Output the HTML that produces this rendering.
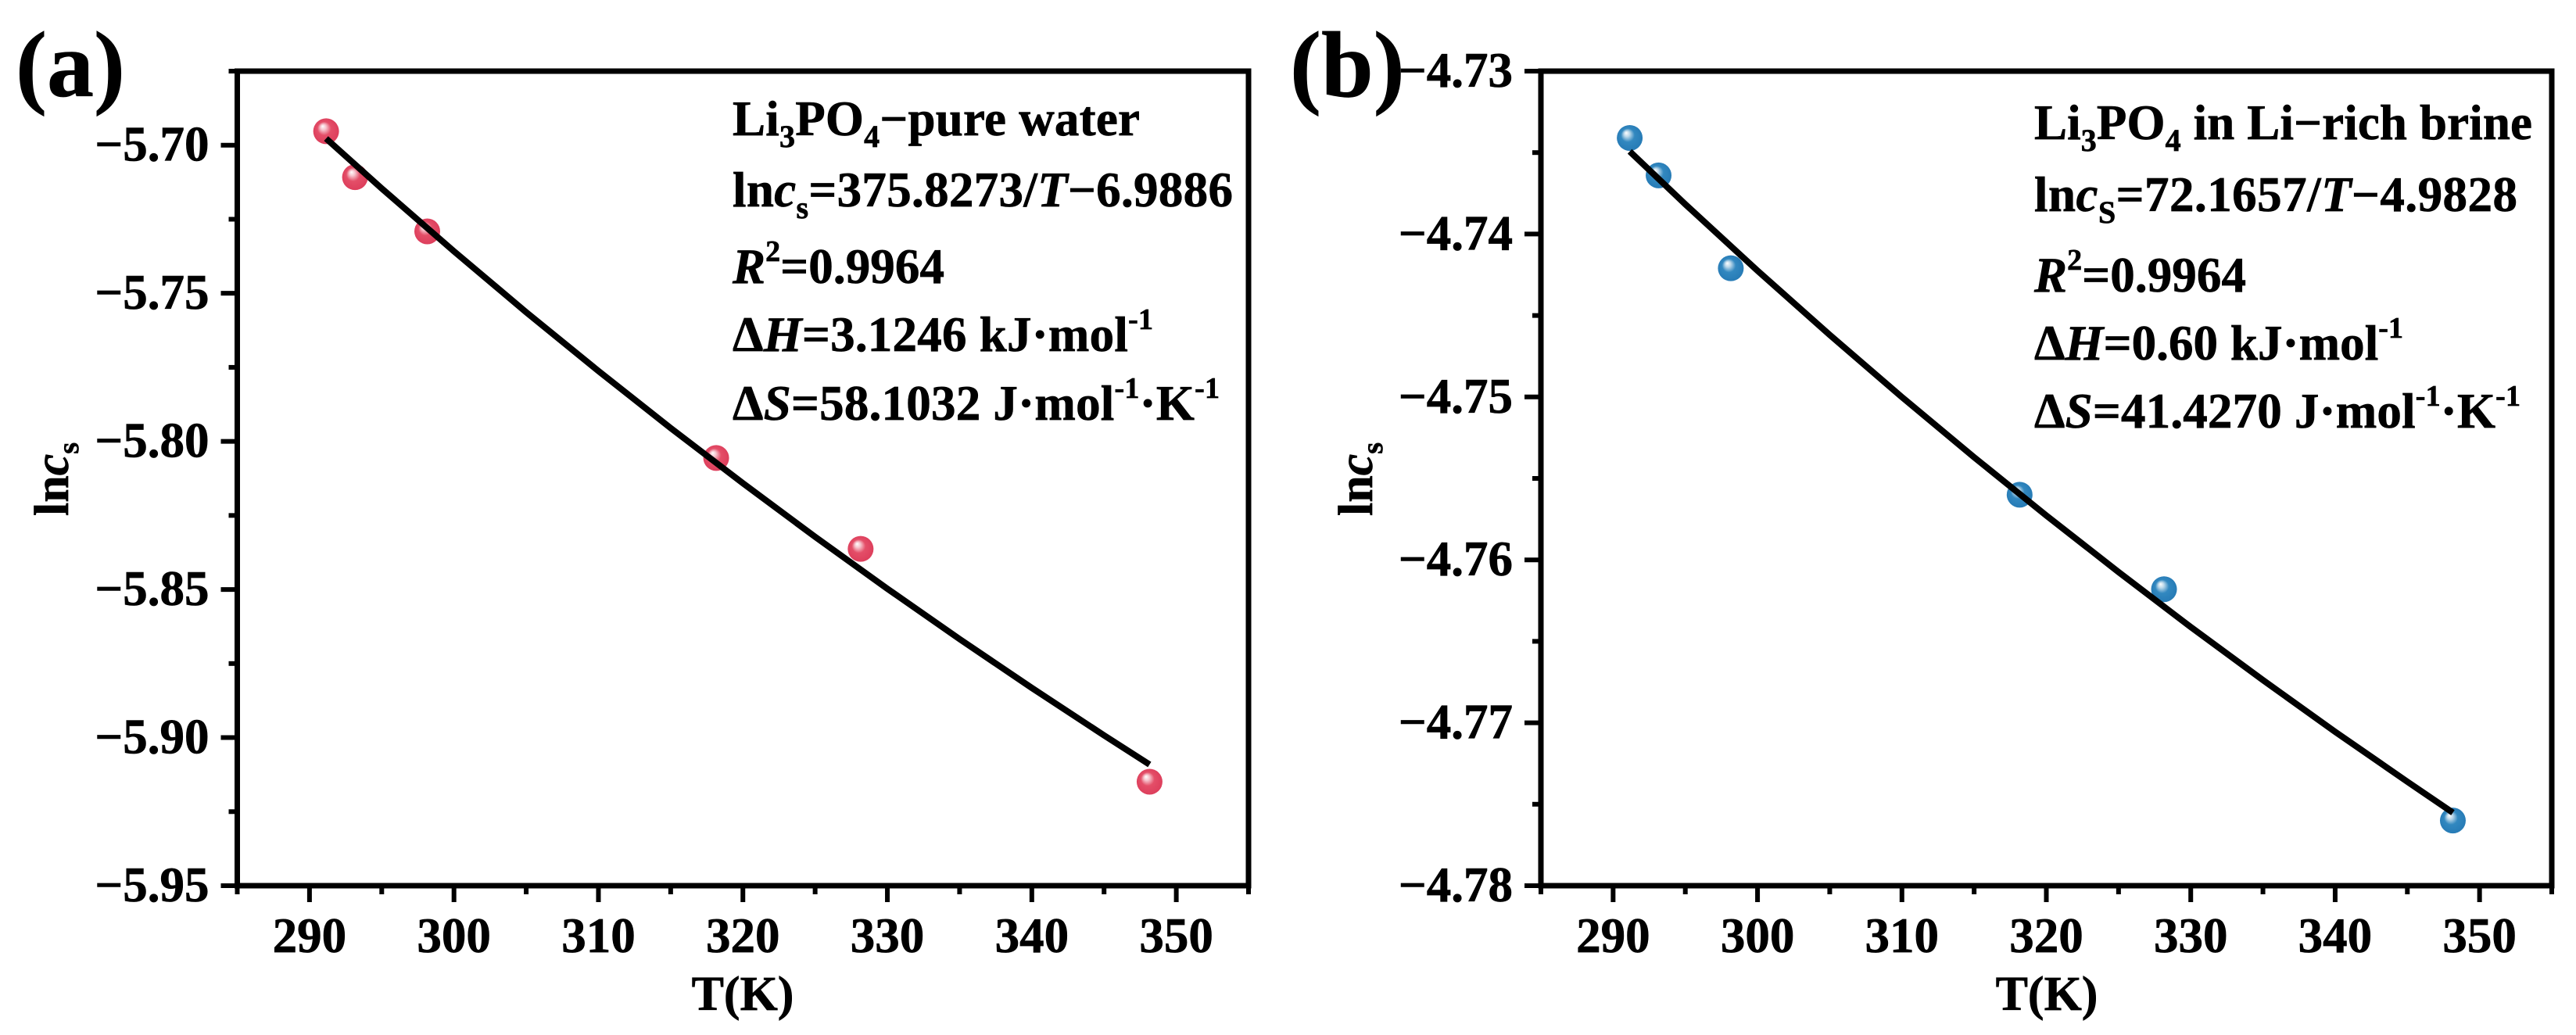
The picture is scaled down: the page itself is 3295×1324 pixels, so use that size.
<!DOCTYPE html>
<html lang="en">
<head>
<meta charset="utf-8">
<title>Li3PO4 solubility fits</title>
<style>
  html, body { margin: 0; padding: 0; background: #fff; }
  svg { display: block; }
  text { font-family: "Liberation Serif", serif; font-weight: bold; fill: #000; stroke: #000; stroke-width: 0.7px; }
</style>
</head>
<body>
<svg id="figure" xmlns="http://www.w3.org/2000/svg" width="3295" height="1324" viewBox="0 0 3295 1324">
  <defs>
    <radialGradient id="red-ball" cx="0.5" cy="0.5" r="0.55" fx="0.36" fy="0.3">
      <stop offset="0" stop-color="#ffffff"/>
      <stop offset="0.2" stop-color="#f6c4cd"/>
      <stop offset="0.48" stop-color="#e44e68"/>
      <stop offset="1" stop-color="#dc3c5a"/>
    </radialGradient>
    <radialGradient id="blue-ball" cx="0.5" cy="0.5" r="0.55" fx="0.36" fy="0.3">
      <stop offset="0" stop-color="#ffffff"/>
      <stop offset="0.2" stop-color="#bcd8ea"/>
      <stop offset="0.48" stop-color="#3288c0"/>
      <stop offset="1" stop-color="#2579b4"/>
    </radialGradient>
  </defs>

  <text x="20" y="123" font-size="120">(a)</text>
  <text x="1650" y="123" font-size="120">(b)</text>

  <g id="panel-a"></g>
  <g id="panel-b"></g>

  <text transform="translate(87,660) rotate(-90)" font-size="62">ln<tspan font-style="italic">c</tspan><tspan font-size="38" dy="13">s</tspan></text>
  <text transform="translate(1755,660) rotate(-90)" font-size="62">ln<tspan font-style="italic">c</tspan><tspan font-size="38" dy="13">s</tspan></text>
  <text x="950" y="1292" font-size="62" text-anchor="middle">T(K)</text>
  <text x="2618" y="1292" font-size="62" text-anchor="middle">T(K)</text>

  <g font-size="63">
    <text x="937" y="173" textLength="521">Li<tspan font-size="40" dy="15">3</tspan><tspan dy="-15">PO</tspan><tspan font-size="40" dy="15">4</tspan><tspan dy="-15">−pure water</tspan></text>
    <text x="937" y="264" textLength="640">ln<tspan font-style="italic">c</tspan><tspan font-size="40" dy="15">s</tspan><tspan dy="-15">=375.8273/</tspan><tspan font-style="italic">T</tspan>−6.9886</text>
    <text x="937" y="362" textLength="271"><tspan font-style="italic">R</tspan><tspan font-size="38" dy="-28">2</tspan><tspan dy="28">=0.9964</tspan></text>
    <text x="937" y="449" textLength="538">Δ<tspan font-style="italic">H</tspan>=3.1246 kJ·mol<tspan font-size="38" dy="-28">-1</tspan></text>
    <text x="937" y="537" textLength="623">Δ<tspan font-style="italic">S</tspan>=58.1032 J·mol<tspan font-size="38" dy="-28">-1</tspan><tspan dy="28">·K</tspan><tspan font-size="38" dy="-28">-1</tspan></text>
  </g>
  <g font-size="63">
    <text x="2602" y="178" textLength="637">Li<tspan font-size="40" dy="15">3</tspan><tspan dy="-15">PO</tspan><tspan font-size="40" dy="15">4</tspan><tspan dy="-15"> in Li−rich brine</tspan></text>
    <text x="2602" y="270" textLength="618">ln<tspan font-style="italic">c</tspan><tspan font-size="40" dy="15">S</tspan><tspan dy="-15">=72.1657/</tspan><tspan font-style="italic">T</tspan>−4.9828</text>
    <text x="2602" y="373" textLength="271"><tspan font-style="italic">R</tspan><tspan font-size="38" dy="-28">2</tspan><tspan dy="28">=0.9964</tspan></text>
    <text x="2602" y="460" textLength="472">Δ<tspan font-style="italic">H</tspan>=0.60 kJ·mol<tspan font-size="38" dy="-28">-1</tspan></text>
    <text x="2602" y="547" textLength="622">Δ<tspan font-style="italic">S</tspan>=41.4270 J·mol<tspan font-size="38" dy="-28">-1</tspan><tspan dy="28">·K</tspan><tspan font-size="38" dy="-28">-1</tspan></text>
  </g>
</svg>

<script>
// Measured temperatures (K)
const temperatures = [291.15, 293.15, 298.15, 318.15, 328.15, 348.15];
// Panel (a) measured ln c_s
const pureWaterValues = [-5.6953, -5.7108, -5.7291, -5.8056, -5.8363, -5.9149];
// Panel (b) measured ln c_s
const brineValues = [-4.7341, -4.7364, -4.7421, -4.7560, -4.7618, -4.7760];
// Fit curves read at these temperatures
const fitTemperatures = [291.15, 295, 300, 305, 310, 315, 320, 325, 330, 335, 340, 345, 348.15];
const pureWaterFit = [-5.69776, -5.71461, -5.73584, -5.75638, -5.77625, -5.79550, -5.81414, -5.83221, -5.84973, -5.86673, -5.88323, -5.89924, -5.90910];
const brineFit = [-4.73493, -4.73817, -4.74225, -4.74619, -4.75001, -4.75370, -4.75728, -4.76075, -4.76412, -4.76738, -4.77055, -4.77362, -4.77552];
// Axis ticks
const xTickValues = [290, 300, 310, 320, 330, 340, 350];
const xMinorValues = [285, 295, 305, 315, 325, 335, 345, 355];
const xDomain = [285, 355];
const yTicksA = [-5.70, -5.75, -5.80, -5.85, -5.90, -5.95];
const yLabelsA = ['−5.70', '−5.75', '−5.80', '−5.85', '−5.90', '−5.95'];
const yMinorA = [-5.675, -5.725, -5.775, -5.825, -5.875, -5.925];
const yDomainA = [-5.95, -5.675];
const yTicksB = [-4.73, -4.74, -4.75, -4.76, -4.77, -4.78];
const yLabelsB = ['−4.73', '−4.74', '−4.75', '−4.76', '−4.77', '−4.78'];
const yMinorB = [-4.735, -4.745, -4.755, -4.765, -4.775];
const yDomainB = [-4.78, -4.73];

const NS = 'http://www.w3.org/2000/svg';
function el(tag, parent, attrs) {
  const node = document.createElementNS(NS, tag);
  for (const key in attrs) node.setAttribute(key, attrs[key]);
  parent.appendChild(node);
  return node;
}

function drawPanel(cfg) {
  const g = document.getElementById(cfg.id);
  const sx = v => cfg.left + (v - xDomain[0]) / (xDomain[1] - xDomain[0]) * (cfg.right - cfg.left);
  const sy = v => cfg.bottom - (v - cfg.yDomain[0]) / (cfg.yDomain[1] - cfg.yDomain[0]) * (cfg.bottom - cfg.top);

  temperatures.forEach((t, i) => {
    const dot = el('circle', g, { cx: sx(t), cy: sy(cfg.values[i]), r: 16.5, fill: cfg.fill });
    
    
  });

  const d = fitTemperatures.map((t, i) => (i ? 'L' : 'M') + sx(t).toFixed(1) + ' ' + sy(cfg.fit[i]).toFixed(1)).join(' ');
  const fitLine = el('path', g, { d: d, fill: 'none', stroke: '#000', 'stroke-width': 8, 'stroke-linejoin': 'round' });
  
  

  const frame = el('rect', g, { x: cfg.left, y: cfg.top, width: cfg.right - cfg.left, height: cfg.bottom - cfg.top, fill: 'none', stroke: '#000', 'stroke-width': 7 });
  
  

  xTickValues.forEach(v => {
    const tick = el('line', g, { x1: sx(v), x2: sx(v), y1: cfg.bottom, y2: cfg.bottom + 21, stroke: '#000', 'stroke-width': 6 });
    
    
    const label = el('text', g, { x: sx(v), y: 1218, 'font-size': 63, 'text-anchor': 'middle' });
    label.textContent = String(v);
    
    
  });
  xMinorValues.forEach(v => {
    const tick = el('line', g, { x1: sx(v), x2: sx(v), y1: cfg.bottom, y2: cfg.bottom + 11, stroke: '#000', 'stroke-width': 6 });
    
    
  });
  cfg.yTicks.forEach((v, i) => {
    const tick = el('line', g, { x1: cfg.left - 21, x2: cfg.left, y1: sy(v), y2: sy(v), stroke: '#000', 'stroke-width': 6 });
    
    
    const label = el('text', g, { x: cfg.left - 36, y: sy(v) + 20, 'font-size': 63, 'text-anchor': 'end' });
    label.textContent = cfg.yLabels[i];
    
    
  });
  cfg.yMinor.forEach(v => {
    const tick = el('line', g, { x1: cfg.left - 11, x2: cfg.left, y1: sy(v), y2: sy(v), stroke: '#000', 'stroke-width': 6 });
    
    
  });
}

drawPanel({ id: 'panel-a', left: 303.5, right: 1597, top: 91, bottom: 1133, yDomain: yDomainA,
  yTicks: yTicksA, yLabels: yLabelsA, yMinor: yMinorA, values: pureWaterValues, fit: pureWaterFit, fill: 'url(#red-ball)' });
drawPanel({ id: 'panel-b', left: 1971, right: 3264, top: 91, bottom: 1133, yDomain: yDomainB,
  yTicks: yTicksB, yLabels: yLabelsB, yMinor: yMinorB, values: brineValues, fit: brineFit, fill: 'url(#blue-ball)' });
</script>
</body>
</html>
